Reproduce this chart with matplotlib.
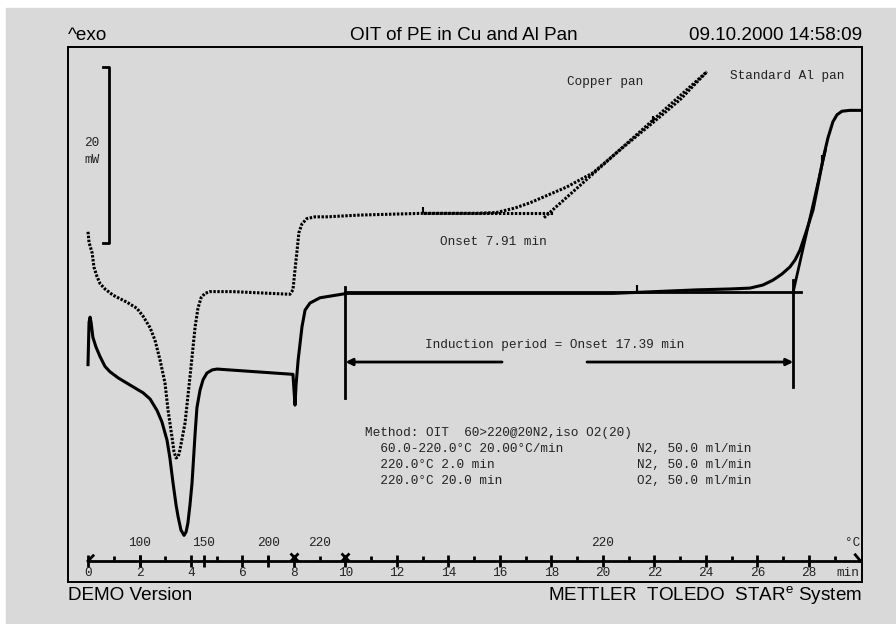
import matplotlib.pyplot as plt
from matplotlib.patches import Rectangle

plt.rcParams['mathtext.fontset'] = 'custom'
plt.rcParams['mathtext.rm'] = 'Liberation Sans'

# Copper pan curve (dotted), time in min, heat flow in mW (exo up, arbitrary offset)
cu_t = [0.0, 0.04, 0.16, 0.23, 0.35, 0.47, 0.66, 0.97, 1.51, 1.90, 2.14, 2.41, 2.60,
        2.80, 2.99, 3.11, 3.26, 3.34, 3.42, 3.50, 3.57, 3.77, 3.96, 4.16, 4.27, 4.39,
        4.54, 4.74, 5.63, 7.84, 7.96, 8.04, 8.12, 8.19, 8.31, 8.50, 8.82, 9.28, 10.56,
        13.01, 15.11, 15.88, 16.58, 17.17, 18.60, 19.61, 20.78, 21.94, 22.99, 24.04]
cu_mw = [39.8, 38.6, 37.4, 35.8, 34.7, 33.9, 33.3, 32.6, 31.8, 31.1, 30.2, 28.9, 27.5,
         25.2, 22.6, 19.5, 16.5, 14.8, 14.1, 14.2, 15.0, 18.1, 23.3, 29.0, 31.1, 32.3,
         32.8, 33.0, 33.0, 32.7, 33.2, 35.5, 37.7, 39.7, 40.7, 41.3, 41.5, 41.5, 41.7,
         41.9, 41.9, 42.0, 42.5, 43.1, 44.9, 46.5, 49.4, 52.2, 54.8, 58.0]

# Standard Al pan curve (solid)
al_t = [0.0, 0.04, 0.08, 0.12, 0.19, 0.31, 0.47, 0.66, 0.85, 1.17, 1.51, 2.14, 2.41,
        2.68, 2.87, 3.07, 3.18, 3.30, 3.42, 3.50, 3.61, 3.73, 3.81, 3.88, 3.96, 4.04,
        4.16, 4.23, 4.35, 4.47, 4.62, 4.82, 5.01, 7.96, 8.00, 8.04, 8.08, 8.16, 8.31,
        8.43, 8.62, 9.01, 10.06, 20.39, 23.65, 24.93, 25.71, 26.21, 26.60, 26.95, 27.26,
        27.46, 27.65, 27.88, 28.16, 28.35, 28.54, 28.74, 28.93, 29.09, 29.28, 29.59, 29.98]
al_mw = [24.7, 29.5, 30.1, 29.5, 27.8, 26.7, 25.6, 24.5, 23.9, 23.2, 22.6, 21.5, 20.8,
         19.5, 18.2, 16.1, 14.1, 11.3, 8.75, 7.4, 5.9, 5.3, 5.7, 6.7, 8.75, 11.25,
         16.9, 19.8, 21.8, 23.0, 23.75, 24.1, 24.2, 23.6, 21.8, 20.1, 22.4, 25.2, 29.0,
         30.9, 31.7, 32.3, 32.8, 32.8, 33.2, 33.3, 33.4, 33.75, 34.3, 35.0, 35.8,
         36.6, 37.7, 39.7, 42.3, 45.1, 48.0, 50.5, 52.3, 53.1, 53.5, 53.6, 53.6]

# evaluation results
iso_start = 10.0          # O2 switched on
cu_onset = 17.91          # 7.91 min after switch
al_onset = 27.39          # 17.39 min after switch
cu_base, al_base = 41.9, 33.0
cu_tan_t = [17.71, 24.04]
cu_tan_mw = [41.4, 58.0]
al_tan_t = [27.39, 28.64]
al_tan_mw = [33.0, 49.1]

# time axis
time_ticks = list(range(0, 29, 2))
temp_labels = ['100', '150', '200', '220', '220']
temp_pos = [2, 4.5, 7, 9, 20]
seg_marks = [8, 10]

W, H = 896, 624
bg = '#d9d9d9'
fig = plt.figure(figsize=(W / 100, H / 100), dpi=100)
fig.patches.append(Rectangle((6 / W, 0), 1 - 6 / W, 1 - 8 / H, transform=fig.transFigure,
                             color=bg, zorder=-10))
ax = fig.add_axes([68 / W, 42 / H, 794 / W, 535 / H])
ax.set_facecolor(bg)
ax.set_xlim(-0.777, 30.06)
ax.set_ylim(0, 60.8)
ax.set_xticks([])
ax.set_yticks([])
for s in ax.spines.values():
    s.set_linewidth(1.4)

mono = dict(family='Liberation Mono', size=9.2, color='#222222')
dots = (0, (0.8, 0.5))

# curves
ax.plot(cu_t, cu_mw, color='black', lw=2.2, ls=dots)
ax.plot(al_t, al_mw, color='black', lw=2.2, solid_joinstyle='round')

# copper onset construction
ax.plot([13.0, 18.1], [cu_base, cu_base], color='black', lw=2.2, ls=dots)
ax.plot(cu_tan_t, cu_tan_mw, color='black', lw=2.2, ls=dots)
ax.text(15.73, 38.6, 'Onset 7.91 min', ha='center', va='center', **mono)

# Al onset construction
ax.plot([iso_start, 27.69], [al_base, al_base], color='black', lw=2.0)
ax.plot(al_tan_t, al_tan_mw, color='black', lw=2.0)
ax.plot([iso_start, iso_start], [20.9, 33.5], color='black', lw=2.0)
ax.plot([al_onset, al_onset], [22.2, 34.3], color='black', lw=2.0)
ax.annotate('', xy=(iso_start, 25.0), xytext=(16.08, 25.0),
            arrowprops=dict(arrowstyle='-|>', color='black', lw=2.0, mutation_scale=10,
                            shrinkA=0, shrinkB=0))
ax.annotate('', xy=(al_onset, 25.0), xytext=(19.38, 25.0),
            arrowprops=dict(arrowstyle='-|>', color='black', lw=2.0, mutation_scale=10,
                            shrinkA=0, shrinkB=0))
ax.text(18.14, 26.9, 'Induction period = Onset 17.39 min', ha='center', va='center', **mono)

# small direction marks on curves
ax.plot([13.0, 21.94], [42.3, 52.6], ls='none', marker='|', ms=5, mew=1.5, color='black')
ax.plot([21.32, 28.5], [33.4, 48.2], ls='none', marker='|', ms=5, mew=1.5, color='black')

ax.text(20.08, 56.8, 'Copper pan', ha='center', va='center', **mono)
ax.text(27.15, 57.5, 'Standard Al pan', ha='center', va='center', **mono)

# scale bar 20 mW
ax.plot([0.58, 0.82, 0.82, 0.58], [58.5, 58.5, 38.5, 38.5], color='black', lw=2.0)
ax.text(0.16, 49.9, '20', ha='center', va='center', **mono)
ax.text(0.16, 48.0, 'mW', ha='center', va='center', **mono)

# method text
method = ['Method: OIT  60>220@20N2,iso O2(20)',
          '  60.0-220.0°C 20.00°C/min',
          '  220.0°C 2.0 min',
          '  220.0°C 20.0 min']
gas = ['', 'N2, 50.0 ml/min', 'N2, 50.0 ml/min', 'O2, 50.0 ml/min']
for i, (m, g) in enumerate(zip(method, gas)):
    y = 16.9 - i * 1.82
    ax.text(10.76, y, m, ha='left', va='center', **mono)
    ax.text(21.32, y, g, ha='left', va='center', **mono)

# built-in time / temperature axis
ax_y = 2.39
ax.plot([0, 30], [ax_y, ax_y], color='black', lw=2.0)
ax.plot(time_ticks, [ax_y] * len(time_ticks), ls='none', marker='|', ms=8, mew=2, color='black')
ax.plot(range(1, 30, 2), [ax_y + 0.3] * 15, ls='none', marker='|', ms=3, mew=2, color='black')
ax.plot(temp_pos[:3], [ax_y] * 3, ls='none', marker='|', ms=8, mew=2, color='black')
ax.plot(seg_marks, [ax_y + 0.45] * 2, ls='none', marker='x', ms=6, mew=2, color='black')
ax.plot([29.8, 30.0], [ax_y + 0.7, ax_y], color='black', lw=2.0)
ax.plot([0.0, 0.2], [ax_y, ax_y + 0.6], color='black', lw=2.0)
for t in time_ticks:
    ax.text(t, 1.0, str(t), ha='center', va='center', **mono)
ax.text(29.5, 1.0, 'min', ha='center', va='center', **mono)
for lab, t in zip(temp_labels, temp_pos):
    ax.text(t, 4.43, lab, ha='center', va='center', **mono)
ax.text(30.0, 4.43, '°C', ha='right', va='center', **mono)

# header / footer
sans = dict(family='Liberation Sans', size=13.6, color='black')
fig.text(68 / W, 1 - 35 / H, '^exo', ha='left', va='center', **sans)
fig.text(464 / W, 1 - 35 / H, 'OIT of PE in Cu and Al Pan', ha='center', va='center', **sans)
fig.text(862 / W, 1 - 35 / H, '09.10.2000 14:58:09', ha='right', va='center', **sans)
fig.text(68 / W, 1 - 596 / H, 'DEMO Version', ha='left', va='center', **sans)
fig.text(862 / W, 1 - 596 / H, r'METTLER  TOLEDO  STAR$^{\mathrm{e}}$ System',
         ha='right', va='center', **sans)

fig.savefig('out.png', dpi=100)
